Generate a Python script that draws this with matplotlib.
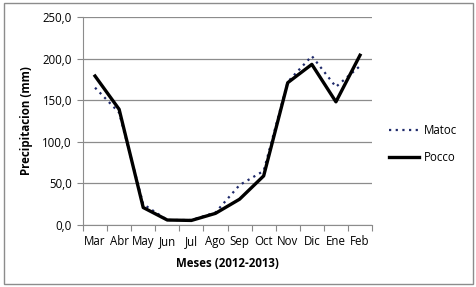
import matplotlib
matplotlib.use('Agg')
import matplotlib.pyplot as plt
import numpy as np

months = ['Mar', 'Abr', 'May', 'Jun', 'Jul', 'Ago', 'Sep', 'Oct', 'Nov', 'Dic', 'Ene', 'Feb']
matoc = [165, 135, 25, 6, 6, 15, 48, 65, 172, 203, 166, 191]
pocco = [179, 139, 21, 6, 5.5, 14, 31, 59, 171, 193, 148, 204]
yticks = [0, 50, 100, 150, 200, 250]

plt.rcParams['font.family'] = ['Open Sans', 'DejaVu Sans']

fig = plt.figure(figsize=(4.77, 2.87), dpi=100)
ax = fig.add_axes([0.174, 0.216, 0.606, 0.725])

x = np.arange(len(months))
ax.plot(x, matoc, color='#1f2a6b', lw=1.6, ls=(0, (1, 2)), label='Matoc')
ax.plot(x, pocco, color='black', lw=2.4, label='Pocco')

ax.set_xlim(-0.5, len(months) - 0.5)
ax.set_ylim(0, 250)
ax.set_yticks(yticks)
ax.set_yticklabels([('%.1f' % v).replace('.', ',') for v in yticks])

# ticks between categories, labels centred on them
ax.set_xticks(np.arange(-0.5, len(months)), minor=False)
ax.set_xticklabels([])
ax.set_xticks(x, minor=True)
ax.set_xticklabels(months, minor=True)
ax.tick_params(axis='x', which='major', length=4, color='#888888')
ax.tick_params(axis='x', which='minor', length=0, labelsize=8.3, pad=7)
ax.tick_params(axis='y', length=4, color='#888888', labelsize=8.3, pad=4)

ax.grid(axis='y', color='#8c8c8c', lw=0.9)
ax.set_axisbelow(True)
for s in ['top', 'right']:
    ax.spines[s].set_visible(False)
ax.spines['left'].set_color('#8c8c8c')
ax.spines['bottom'].set_color('#8c8c8c')

ax.set_xlabel('Meses (2012-2013)', fontsize=8.3, fontweight='bold', labelpad=7)
ax.set_ylabel('Precipitacion (mm)', fontsize=8.3, fontweight='bold', labelpad=7)

ax.legend(loc='center left', bbox_to_anchor=(1.06, 0.39), frameon=False,
          fontsize=8.3, handlelength=2.6, labelspacing=1.2, handletextpad=0.4,
          borderpad=0, borderaxespad=0)

fig.patches.append(plt.Rectangle((0.008, 0.01), 0.984, 0.98, transform=fig.transFigure,
                                 fill=False, edgecolor='#8c8c8c', lw=1))

plt.savefig('out.png', dpi=100)
